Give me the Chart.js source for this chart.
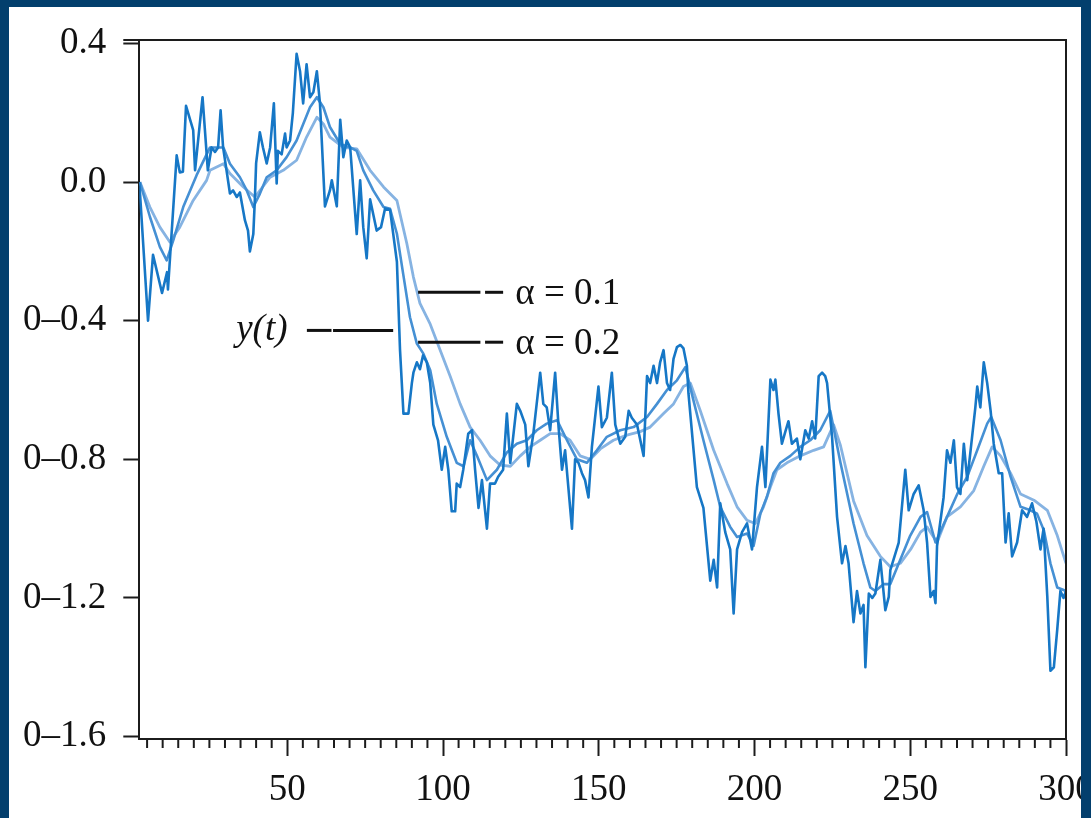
<!DOCTYPE html>
<html>
<head>
<meta charset="utf-8">
<script src="https://cdn.jsdelivr.net/npm/chart.js@4.4.1/dist/chart.umd.min.js"></script>
<style>
  html, body { margin: 0; padding: 0; }
  body { width: 1091px; height: 818px; background: #033f6d; position: relative; overflow: hidden; }
  #panel { position: absolute; left: 9px; top: 7px; width: 1072px; height: 811px; background: #fff; }
  #wrap { position: absolute; left: 0; top: 0; width: 1091px; height: 818px; }
  .band { position: absolute; background: #033f6d; z-index: 2; }
</style>
</head>
<body>
<div id="panel"></div>
<div id="wrap"><canvas id="smoothChart"></canvas></div>
<div class="band" style="left:0;top:0;width:9px;height:818px"></div>
<div class="band" style="left:1081px;top:0;width:10px;height:818px"></div>
<div class="band" style="left:0;top:0;width:1091px;height:7px"></div>
<script>
// y(t) as [t, value]
const yPoints = [
  [2.5, 0.0], [5.3, -0.40], [6.9, -0.21], [9.8, -0.32], [11.4, -0.26], [11.7, -0.31], [14.5, 0.077], [15.5, 0.028], [16.5, 0.03], [17.5, 0.22],
  [19.8, 0.15], [20.4, 0.034], [22.8, 0.245], [24.5, 0.034], [25.7, 0.10], [26.8, 0.087], [27.8, 0.10], [28.6, 0.207], [29.4, 0.10], [30.5, 0.034],
  [31.6, -0.033], [32.6, -0.024], [33.8, -0.043], [34.8, -0.03], [36.4, -0.11], [37.4, -0.14], [38.0, -0.20], [39.1, -0.15], [39.6, -0.05], [40.0, 0.054],
  [41.2, 0.144], [42.2, 0.10], [43.4, 0.054], [44.5, 0.10], [45.7, 0.227], [46.6, -0.004], [47.0, 0.09], [48.2, 0.08], [49.3, 0.14], [49.8, 0.10],
  [50.9, 0.12], [51.8, 0.20], [53.0, 0.37], [54.1, 0.32], [55.1, 0.227], [56.2, 0.34], [57.3, 0.245], [58.4, 0.26], [59.5, 0.32], [60.5, 0.227],
  [62.1, -0.07], [63.7, -0.024], [64.3, 0.005], [65.9, -0.07], [67.0, 0.18], [68.0, 0.072], [69.1, 0.12], [70.2, 0.10], [72.3, -0.15], [73.4, 0.005],
  [74.4, -0.13], [75.5, -0.22], [76.6, -0.05], [78.7, -0.14], [80.1, -0.13], [81.4, -0.076], [83.0, -0.08], [85.2, -0.23], [86.2, -0.485], [87.3, -0.668],
  [88.9, -0.668], [90.0, -0.58], [90.5, -0.55], [91.6, -0.52], [92.6, -0.54], [93.6, -0.50], [94.8, -0.52], [95.9, -0.58], [96.9, -0.70], [98.4, -0.745],
  [99.6, -0.83], [100.7, -0.764], [101.7, -0.83], [102.8, -0.95], [103.9, -0.95], [104.4, -0.87], [105.5, -0.88], [106.5, -0.83], [108.1, -0.726], [109.3, -0.716],
  [110.3, -0.83], [111.4, -0.94], [112.5, -0.86], [114.1, -1.0], [115.1, -0.87], [116.7, -0.87], [117.7, -0.85], [119.3, -0.83], [120.5, -0.668], [121.6, -0.81],
  [123.7, -0.64], [124.8, -0.66], [126.4, -0.70], [127.4, -0.82], [129.0, -0.726], [131.2, -0.55], [132.2, -0.64], [133.3, -0.65], [134.4, -0.716], [136.0, -0.55],
  [137.1, -0.707], [138.2, -0.83], [139.2, -0.774], [141.4, -1.0], [142.4, -0.80], [143.5, -0.81], [144.6, -0.84], [145.6, -0.86], [146.7, -0.91], [147.8, -0.764],
  [149.9, -0.59], [151.0, -0.707], [152.6, -0.68], [154.2, -0.55], [155.3, -0.70], [156.9, -0.755], [158.5, -0.735], [159.6, -0.66], [160.6, -0.68], [162.3, -0.70],
  [164.4, -0.79], [165.5, -0.56], [166.5, -0.58], [167.6, -0.53], [168.7, -0.58], [169.7, -0.52], [170.8, -0.485], [171.9, -0.58], [172.9, -0.60], [174.0, -0.51],
  [175.1, -0.476], [176.2, -0.47], [177.2, -0.48], [178.3, -0.53], [178.8, -0.61], [181.5, -0.88], [183.6, -0.94], [185.8, -1.15], [186.9, -1.09], [188.0, -1.17],
  [189.0, -0.927], [190.6, -1.01], [192.2, -1.06], [193.3, -1.245], [194.4, -1.06], [196.0, -1.01], [197.6, -0.985], [199.2, -1.06], [200.8, -0.88], [202.4, -0.764],
  [203.5, -0.88], [205.1, -0.57], [206.1, -0.60], [206.7, -0.57], [207.7, -0.668], [208.8, -0.755], [209.9, -0.72], [210.9, -0.69], [212.0, -0.755], [213.6, -0.74],
  [214.7, -0.80], [216.3, -0.716], [217.4, -0.74], [218.5, -0.69], [219.5, -0.74], [220.6, -0.56], [221.7, -0.55], [222.7, -0.56], [223.3, -0.58], [224.9, -0.735],
  [226.5, -0.966], [228.1, -1.10], [229.2, -1.05], [230.2, -1.10], [231.8, -1.27], [232.9, -1.18], [234.0, -1.245], [235.0, -1.22], [235.6, -1.40], [236.7, -1.187],
  [237.8, -1.20], [238.8, -1.187], [240.4, -1.09], [242.0, -1.235], [243.1, -1.197], [243.6, -1.12], [246.3, -1.04], [248.4, -0.83], [249.5, -0.947], [251.1, -0.90],
  [252.7, -0.875], [254.3, -0.947], [255.4, -1.04], [256.5, -1.197], [257.5, -1.18], [258.1, -1.215], [258.6, -1.05], [260.7, -0.91], [261.8, -0.774], [262.9, -0.81],
  [264.0, -0.745], [265.0, -0.88], [266.1, -0.90], [267.2, -0.755], [268.3, -0.86], [269.3, -0.78], [270.9, -0.65], [271.5, -0.59], [272.5, -0.65], [273.6, -0.52],
  [274.7, -0.58], [275.8, -0.66], [276.8, -0.755], [278.4, -0.84], [279.5, -0.84], [280.6, -1.04], [281.6, -0.956], [282.7, -1.08], [284.3, -1.04], [285.9, -0.947],
  [287.5, -0.966], [289.1, -0.927], [290.5, -0.98], [291.8, -1.06], [292.8, -1.0], [294.0, -1.197], [295.0, -1.41], [296.1, -1.40], [297.2, -1.29], [298.2, -1.18],
  [299.2, -1.20], [300, -1.18]
];

// smoothed with alpha = 0.2
const alpha02Points = [
  [2.7, 0.0], [5.9, -0.10], [9.1, -0.187], [11.3, -0.226], [13.4, -0.168], [16.6, -0.072], [20.9, 0.02], [25.2, 0.10], [29.5, 0.10], [31.6, 0.053],
  [34.8, 0.014], [37.0, -0.024], [39.1, -0.072], [41.2, -0.034], [43.4, 0.014], [46.6, 0.034], [49.8, 0.072], [53.0, 0.12], [57.3, 0.216], [59.5, 0.245],
  [61.6, 0.216], [63.7, 0.159], [67.0, 0.11], [70.2, 0.10], [72.3, 0.09], [74.4, 0.034], [77.6, -0.024], [80.9, -0.072], [83.0, -0.077], [85.2, -0.149],
  [87.3, -0.27], [89.4, -0.39], [91.6, -0.466], [93.7, -0.495], [95.9, -0.543], [98.0, -0.64], [101.2, -0.735], [104.4, -0.81], [106.6, -0.82], [108.7, -0.745],
  [110.9, -0.79], [114.1, -0.86], [117.3, -0.83], [120.5, -0.78], [123.7, -0.755], [126.9, -0.745], [130.1, -0.716], [133.3, -0.697], [136.6, -0.687], [139.8, -0.745],
  [143.0, -0.80], [146.2, -0.81], [149.4, -0.774], [152.6, -0.735], [156.9, -0.716], [161.2, -0.707], [165.5, -0.678], [168.7, -0.64], [171.9, -0.60], [175.1, -0.572],
  [177.8, -0.534], [180.4, -0.63], [183.6, -0.745], [186.9, -0.86], [189.0, -0.937], [192.2, -0.995], [194.4, -1.024], [197.6, -1.014], [199.7, -1.05], [201.9, -0.956],
  [204.0, -0.908], [206.1, -0.84], [208.3, -0.81], [211.5, -0.79], [214.7, -0.764], [217.9, -0.745], [221.1, -0.716], [224.3, -0.66], [227.6, -0.81], [231.8, -0.985],
  [235.0, -1.10], [237.2, -1.17], [238.8, -1.18], [241.5, -1.16], [243.6, -1.16], [246.8, -1.09], [250.0, -1.02], [253.3, -0.966], [255.4, -0.952], [258.1, -1.04],
  [261.8, -0.966], [265.1, -0.90], [268.3, -0.85], [271.5, -0.774], [274.7, -0.697], [276.0, -0.678], [279.0, -0.745], [282.2, -0.85], [285.4, -0.937], [288.6, -0.947],
  [290.7, -0.957], [292.9, -1.005], [295.0, -1.10], [297.2, -1.17], [300, -1.18]
];

// smoothed with alpha = 0.1
const alpha01Points = [
  [2.7, 0.0], [5.9, -0.072], [9.1, -0.13], [12.3, -0.173], [15.5, -0.13], [19.8, -0.053], [24.1, 0.005], [25.2, 0.034], [29.5, 0.053], [31.6, 0.025],
  [35.9, -0.014], [39.6, -0.043], [44.5, 0.014], [48.7, 0.034], [53.0, 0.063], [56.2, 0.13], [59.5, 0.187], [61.6, 0.168], [63.7, 0.13], [68.0, 0.10],
  [72.3, 0.096], [76.6, 0.034], [80.9, -0.014], [85.2, -0.053], [88.4, -0.178], [90.5, -0.274], [92.6, -0.35], [95.9, -0.41], [99.1, -0.485], [102.3, -0.56],
  [105.5, -0.64], [108.7, -0.707], [111.9, -0.745], [115.1, -0.79], [118.4, -0.817], [121.6, -0.82], [124.8, -0.79], [128.0, -0.764], [131.2, -0.745], [134.4, -0.726],
  [137.6, -0.726], [140.8, -0.745], [144.0, -0.79], [147.3, -0.80], [150.5, -0.77], [154.7, -0.745], [159.0, -0.73], [163.3, -0.72], [166.5, -0.707], [170.8, -0.668],
  [174.0, -0.64], [177.2, -0.59], [179.4, -0.58], [182.6, -0.66], [186.9, -0.774], [191.2, -0.87], [194.4, -0.937], [197.6, -0.976], [200.3, -0.985], [202.9, -0.937],
  [205.1, -0.88], [207.2, -0.83], [210.4, -0.81], [214.7, -0.79], [219.0, -0.774], [222.2, -0.764], [225.4, -0.70], [227.6, -0.76], [231.8, -0.92], [236.1, -1.02],
  [240.4, -1.08], [243.6, -1.11], [246.8, -1.10], [250.1, -1.06], [253.3, -1.01], [255.4, -0.995], [258.6, -1.04], [261.8, -0.966], [266.1, -0.937], [270.4, -0.89],
  [273.6, -0.82], [276.3, -0.764], [279.0, -0.79], [282.2, -0.84], [285.4, -0.90], [289.7, -0.918], [294.0, -0.947], [297.2, -1.02], [300, -1.10]
];

// axis ticks as printed
const yTickValues = [-1.6, -1.2, -0.8, -0.4, 0.0, 0.4];
const yTickLabels = ['0\u20131.6', '0\u20131.2', '0\u20130.8', '0\u20130.4', '0.0', '0.4'];
const xMajorTicks = [50, 100, 150, 200, 250, 300];

const toXY = pts => pts.map(p => ({ x: p[0], y: p[1] }));
const serif = '"Liberation Serif", "DejaVu Serif", serif';
const ink = '#1c1c1c';

// box, minor ticks and the line labels
const framePlugin = {
  id: 'frame',
  afterDraw(chart) {
    const { ctx, chartArea: a, scales } = chart;
    const xs = scales.x, ys = scales.y;
    ctx.save();
    ctx.strokeStyle = ink;
    ctx.lineWidth = 2;
    ctx.beginPath();
    ctx.moveTo(a.left - 16, a.top);
    ctx.lineTo(a.right, a.top);
    ctx.lineTo(a.right, a.bottom);
    ctx.stroke();
    // minor ticks every 5
    xs.ticks.forEach(t => {
      if (xMajorTicks.includes(t.value)) return;
      const px = xs.getPixelForValue(t.value);
      ctx.beginPath();
      ctx.moveTo(px, a.bottom);
      ctx.lineTo(px, a.bottom + 9);
      ctx.stroke();
    });

    // leader lines
    ctx.lineWidth = 3;
    ctx.strokeStyle = '#111';
    const seg = (t1, t2, v) => {
      const y = ys.getPixelForValue(v);
      ctx.beginPath();
      ctx.moveTo(xs.getPixelForValue(t1), y);
      ctx.lineTo(xs.getPixelForValue(t2), y);
      ctx.stroke();
    };
    seg(56.3, 64.2, -0.428); seg(64.7, 84.0, -0.428);
    seg(92.0, 112.0, -0.318); seg(113.5, 119.3, -0.318);
    seg(92.0, 112.0, -0.462); seg(113.5, 119.3, -0.462);

    ctx.fillStyle = '#111';
    ctx.textBaseline = 'middle';
    ctx.textAlign = 'left';
    ctx.font = 'italic 37px ' + serif;
    ctx.fillText('y(t)', xs.getPixelForValue(33.6), ys.getPixelForValue(-0.428));
    ctx.font = '37px ' + serif;
    ctx.fillText('\u03b1 = 0.1', xs.getPixelForValue(123.2), ys.getPixelForValue(-0.318) + 2);
    ctx.fillText('\u03b1 = 0.2', xs.getPixelForValue(123.2), ys.getPixelForValue(-0.462) + 2);
    ctx.restore();
  }
};

const ctx = document.getElementById('smoothChart').getContext('2d');
new Chart(ctx, {
  type: 'scatter',
  data: {
    datasets: [
      { label: 'y(t)', data: toXY(yPoints), borderColor: '#1677c6', borderWidth: 2.6 },
      { label: 'alpha = 0.2', data: toXY(alpha02Points), borderColor: '#4590d4', borderWidth: 2.6 },
      { label: 'alpha = 0.1', data: toXY(alpha01Points), borderColor: '#86b3e2', borderWidth: 2.8 }
    ]
  },
  options: {
    responsive: true,
    maintainAspectRatio: false,
    animation: false,
    showLine: true,
    elements: { point: { radius: 0, hoverRadius: 0 }, line: { tension: 0, borderJoinStyle: 'round' } },
    layout: { padding: { top: 40, right: 25, left: 0, bottom: 0 } },
    plugins: { legend: { display: false }, tooltip: { enabled: false } },
    scales: {
      x: {
        type: 'linear',
        min: 2.5,
        max: 300,
        border: { display: true, color: ink, width: 2 },
        grid: {
          drawOnChartArea: false,
          drawTicks: true,
          tickLength: 17,
          tickWidth: 2,
          tickColor: c => (c.tick && xMajorTicks.includes(c.tick.value)) ? ink : 'rgba(0,0,0,0)'
        },
        ticks: {
          autoSkip: false,
          maxRotation: 0,
          padding: 12,
          color: '#111',
          font: { family: serif, size: 37 },
          callback: v => xMajorTicks.includes(v) ? String(v) : ''
        },
        afterBuildTicks: s => {
          const ticks = [];
          for (let v = 5; v <= 300; v += 5) ticks.push({ value: v });
          s.ticks = ticks;
        },
        afterFit: s => { s.height = 79; s.paddingLeft = 0; s.paddingRight = 0; }
      },
      y: {
        min: -1.607,
        max: 0.41,
        border: { display: true, color: ink, width: 2 },
        grid: { drawOnChartArea: false, drawTicks: true, tickLength: 16, tickWidth: 2, tickColor: ink },
        ticks: {
          padding: 17,
          color: '#111',
          font: { family: serif, size: 37 },
          callback: v => {
            const i = yTickValues.findIndex(t => Math.abs(t - v) < 1e-6);
            return i >= 0 ? yTickLabels[i] : '';
          }
        },
        afterBuildTicks: s => { s.ticks = yTickValues.map(v => ({ value: v })); },
        afterFit: s => { s.width = 139.3; s.paddingTop = 0; s.paddingBottom = 0; }
      }
    }
  },
  plugins: [framePlugin]
});
</script>
</body>
</html>
